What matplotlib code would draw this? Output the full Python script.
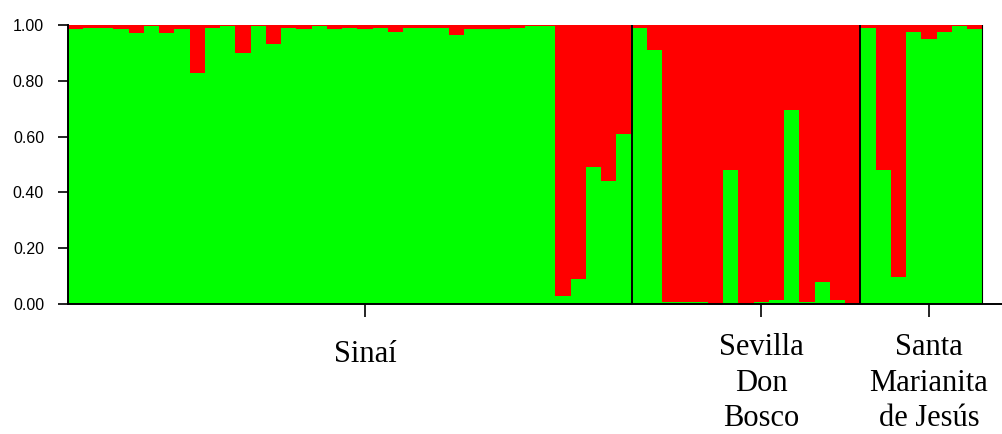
import matplotlib
matplotlib.use("Agg")
import matplotlib.pyplot as plt
import matplotlib.transforms as mtransforms
from matplotlib import font_manager
import numpy as np

# ---- data ----
groups = ["Sinaí", "Sevilla\nDon\nBosco", "Santa\nMarianita\nde Jesús"]
group_sizes = [37, 15, 8]

# membership in cluster 1 (green); cluster 2 (red) = 1 - green
green_sinai = [0.985, 0.99, 0.99, 0.985, 0.97, 0.995, 0.97, 0.985, 0.827, 0.99,
               0.995, 0.90, 0.995, 0.933, 0.99, 0.985, 0.995, 0.985, 0.99, 0.985,
               0.99, 0.975, 0.99, 0.99, 0.99, 0.963, 0.985, 0.985, 0.985, 0.99,
               0.995, 0.995, 0.03, 0.09, 0.49, 0.44, 0.61]
green_sevilla = [0.99, 0.91, 0.008, 0.008, 0.008, 0.0, 0.48, 0.0, 0.008, 0.015,
                 0.695, 0.008, 0.08, 0.015, 0.0]
green_santa = [0.99, 0.48, 0.095, 0.975, 0.949, 0.975, 0.995, 0.985]

yticks = [0.0, 0.2, 0.4, 0.6, 0.8, 1.0]

# ---- figure ----
W, H = 1002, 434
fig = plt.figure(figsize=(W / 100, H / 100), dpi=100)
left_px, bottom_px, top_px, right_px = 67.7, 304, 25, 982.3
ax = fig.add_axes([left_px / W, 1 - bottom_px / H, (W - left_px) / W, (bottom_px - top_px) / H])

green = np.array(green_sinai + green_sevilla + green_santa)
red = 1 - green
n = len(green)
x = np.arange(n)
GREEN = "#00ff00"
RED = "#ff0000"
ax.bar(x, green, width=1, align="edge", color=GREEN, linewidth=0)
ax.bar(x, red, width=1, align="edge", bottom=green, color=RED, linewidth=0)

bar_px = (right_px - left_px) / n
ax.set_xlim(0, (W - left_px) / bar_px)
ax.set_ylim(0, 1)

# group separators
bounds = np.cumsum(group_sizes)
for b in bounds[:-1]:
    ax.axvline(b, color="black", lw=1.4)
ax.plot([bounds[-1], bounds[-1]], [0, 1], color="black", lw=0.8)

for s in ["top", "right"]:
    ax.spines[s].set_visible(False)
for s in ["left", "bottom"]:
    ax.spines[s].set_linewidth(1.4)
    ax.spines[s].set_color("black")

names = {f.name for f in font_manager.fontManager.ttflist}
yfont = "Liberation Sans Narrow" if "Liberation Sans Narrow" in names else "Liberation Sans"
ax.set_yticks(yticks)
ax.set_yticklabels([f"{v:.2f}" for v in yticks], fontfamily=yfont,
                   fontsize=13 if yfont.endswith("Narrow") else 11.5)
ax.tick_params(axis="y", length=7, width=1.2, pad=10)

starts = np.concatenate([[0], bounds[:-1]])
centers = starts + np.array(group_sizes) / 2 + np.array([1.0, 1.0, 0.5])
ax.set_xticks(centers)
ax.set_xticklabels([""] * len(groups))
ax.tick_params(axis="x", length=9.5, width=1.2)

base = mtransforms.blended_transform_factory(ax.transData, ax.transAxes)
tops_px = [340, 333, 333]  # top of text box in pixels from figure top
for c, g, tp in zip(centers, groups, tops_px):
    off = mtransforms.ScaledTranslation(0, -(tp - bottom_px) / 100, fig.dpi_scale_trans)
    ax.text(c, 0, g, transform=base + off, ha="center", va="top", ma="center",
            fontfamily="Liberation Serif", fontsize=22, linespacing=1.3, clip_on=False)

fig.savefig("out.png", dpi=100)
